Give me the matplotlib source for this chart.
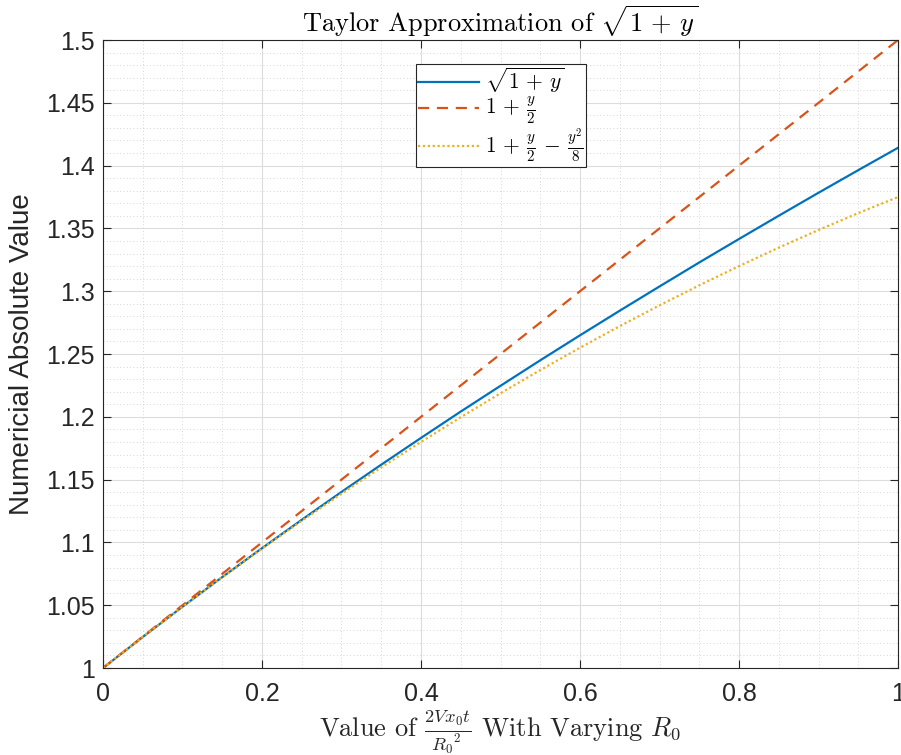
import numpy as np
import matplotlib
matplotlib.use('Agg')
import matplotlib.pyplot as plt
from matplotlib.ticker import MultipleLocator, FuncFormatter

plt.rcParams['mathtext.fontset'] = 'cm'
plt.rcParams['font.family'] = ['Liberation Sans', 'DejaVu Sans']

# values at steps of 0.05
y_vals = [0.0, 0.05, 0.1, 0.15, 0.2, 0.25, 0.3, 0.35, 0.4, 0.45, 0.5,
          0.55, 0.6, 0.65, 0.7, 0.75, 0.8, 0.85, 0.9, 0.95, 1.0]
exact = [1.0, 1.0247, 1.0488, 1.0724, 1.0954, 1.1180, 1.1402, 1.1619, 1.1832, 1.2042, 1.2247,
         1.2450, 1.2649, 1.2845, 1.3038, 1.3229, 1.3416, 1.3601, 1.3784, 1.3964, 1.4142]
first_order = [1.0, 1.025, 1.05, 1.075, 1.1, 1.125, 1.15, 1.175, 1.2, 1.225, 1.25,
               1.275, 1.3, 1.325, 1.35, 1.375, 1.4, 1.425, 1.45, 1.475, 1.5]
second_order = [1.0, 1.0247, 1.04875, 1.0722, 1.095, 1.1172, 1.13875, 1.1597, 1.18, 1.1997, 1.21875,
                1.2372, 1.255, 1.2722, 1.28875, 1.3047, 1.32, 1.3347, 1.34875, 1.3622, 1.375]

labels = [r'$\sqrt{1\,+\,y}$', r'$1\,+\,\frac{y}{2}$', r'$1\,+\,\frac{y}{2}\,-\,\frac{y^2}{8}$']
colors = ['#0072BD', '#D95319', '#EDB120']
dark = '#262626'

fig = plt.figure(figsize=(9.01, 7.55), dpi=100)
ax = fig.add_axes([0.1143, 0.1152, 0.8824, 0.8318])

ax.plot(y_vals, exact, color=colors[0], lw=1.6, ls='-', label=labels[0])
ax.plot(y_vals, first_order, color=colors[1], lw=1.6, ls=(0, (5, 3.5)), label=labels[1])
ax.plot(y_vals, second_order, color=colors[2], lw=1.6, ls=(0, (1, 1.2)), label=labels[2])

ax.set_xlim(0, 1)
ax.set_ylim(1, 1.5)
ax.xaxis.set_major_locator(MultipleLocator(0.2))
ax.xaxis.set_minor_locator(MultipleLocator(0.05))
ax.yaxis.set_major_locator(MultipleLocator(0.05))
ax.yaxis.set_minor_locator(MultipleLocator(0.01))
ax.xaxis.set_major_formatter(FuncFormatter(lambda v, p: f'{v:g}'))
ax.yaxis.set_major_formatter(FuncFormatter(lambda v, p: f'{v:g}'))

ax.grid(which='major', color='#dcdcdc', lw=0.8, ls='-')
ax.grid(which='minor', color='#c8c8c8', lw=0.6, ls=(0, (1, 3)))
ax.set_axisbelow(True)

ax.tick_params(which='both', direction='in', top=True, right=True, colors=dark,
               labelsize=18)
ax.tick_params(which='major', length=6, width=0.8)
ax.tick_params(which='minor', length=0)
ax.tick_params(axis='x', pad=10)
ax.tick_params(axis='y', pad=6)
for s in ax.spines.values():
    s.set_color(dark)
    s.set_linewidth(0.8)

ax.set_title(r'Taylor Approximation of $\sqrt{1\,+\,y}$', fontfamily='cmr10', fontsize=19,
             color='black', pad=6)
ax.set_xlabel(r'Value of $\frac{2Vx_0t}{{R_0}^2}$ With Varying $R_0$', fontfamily='cmr10',
              fontsize=19, color=dark, labelpad=1)
ax.set_ylabel('Numericial Absolute Value', fontsize=20, color=dark, labelpad=8)

leg = ax.legend(loc='upper left', bbox_to_anchor=(0.394, 0.962), fontsize=15.5,
                frameon=True, fancybox=False, framealpha=1, edgecolor=dark,
                handlelength=2.8, handletextpad=0.3, borderpad=0.1, labelspacing=0.0,
                borderaxespad=0)
leg.get_frame().set_linewidth(0.8)

plt.savefig('out.png', dpi=100)
